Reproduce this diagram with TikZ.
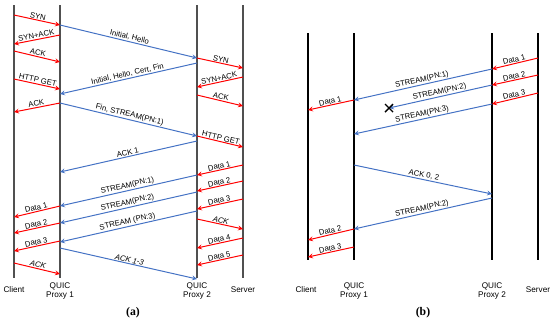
\documentclass[tikz,border=0pt]{standalone}
\usepackage{fontspec}
\setmainfont{Liberation Serif}
\setsansfont{Liberation Sans}
\usepackage{xcolor}
\usepackage{tikz}
\usetikzlibrary{arrows, positioning, calc}

\definecolor{msgred}{RGB}{255,0,0}
\definecolor{msgblue}{RGB}{68,114,196}
\definecolor{linegray}{RGB}{80,80,80}

\begin{document}
\begin{tikzpicture}[x=0.03cm, y=-0.03cm, >=stealth,
    lifeline/.style={line width=1.2pt, linegray},
    redmsg/.style={->, line width=0.85pt, msgred},
    bluemsg/.style={->, line width=0.85pt, msgblue},
    lbl/.style={midway, above, sloped, inner sep=0.6pt, text=black, font=\sffamily\fontsize{6.6}{8}\selectfont},
    ends/.style={align=center, font=\sffamily\fontsize{7}{8.5}\selectfont}]
    \useasboundingbox (0,0) rectangle (550,323);

    % (a) lifelines
    \coordinate (ca) at (14,5);
    \coordinate (pa1) at (60,5);
    \coordinate (pa2) at (197,5);
    \coordinate (sa) at (243,5);
    \draw[lifeline] (ca) -- (ca |- 0,278);
    \draw[lifeline] (pa1) -- (pa1 |- 0,278);
    \draw[lifeline] (pa2) -- (pa2 |- 0,278);
    \draw[lifeline] (sa) -- (sa |- 0,278);
    \node (clienta) [ends] at (14,290) {Client};
    \node (proxya1) [ends] at (60,291) {QUIC\\Proxy 1};
    \node (proxya2) [ends] at (197,291) {QUIC\\Proxy 2};
    \node (servera) [ends] at (243,290) {Server};
    \node (capa) at (133,313) {\textbf{(a)}};

    % (a) Client <-> Proxy 1
    \draw[redmsg] (ca |- 0,15) -- (pa1 |- 0,25) node[lbl] {SYN};
    \draw[redmsg] (pa1 |- 0,35) -- (ca |- 0,44) node[lbl] {SYN+ACK};
    \draw[redmsg] (ca |- 0,51) -- (pa1 |- 0,62) node[lbl] {ACK};
    \draw[redmsg] (ca |- 0,79) -- (pa1 |- 0,89) node[lbl] {HTTP GET};
    \draw[redmsg] (pa1 |- 0,103) -- (ca |- 0,112) node[lbl] {ACK};
    \draw[redmsg] (pa1 |- 0,206) -- (ca |- 0,217) node[lbl] {Data 1};
    \draw[redmsg] (pa1 |- 0,223) -- (ca |- 0,233) node[lbl] {Data 2};
    \draw[redmsg] (pa1 |- 0,241) -- (ca |- 0,251) node[lbl] {Data 3};
    \draw[redmsg] (ca |- 0,263) -- (pa1 |- 0,274) node[lbl] {\itshape ACK};

    % (a) Proxy 1 <-> Proxy 2
    \draw[bluemsg] (pa1 |- 0,25) -- (pa2 |- 0,58) node[lbl] {Initial, Hello};
    \draw[bluemsg] (pa2 |- 0,63) -- (pa1 |- 0,94) node[lbl] {Initial, Hello, Cert, Fin};
    \draw[bluemsg] (pa1 |- 0,103) -- (pa2 |- 0,136) node[lbl] {Fin, STREAM(PN:1)};
    \draw[bluemsg] (pa2 |- 0,141) -- (pa1 |- 0,172) node[lbl] {ACK 1};
    \draw[bluemsg] (pa2 |- 0,175) -- (pa1 |- 0,206) node[lbl] {STREAM(PN:1)};
    \draw[bluemsg] (pa2 |- 0,192) -- (pa1 |- 0,223) node[lbl] {STREAM(PN:2)};
    \draw[bluemsg] (pa2 |- 0,211) -- (pa1 |- 0,242) node[lbl] {STREAM (PN:3)};
    \draw[bluemsg] (pa1 |- 0,248) -- (pa2 |- 0,279) node[lbl] {\itshape ACK 1-3};

    % (a) Proxy 2 <-> Server
    \draw[redmsg] (pa2 |- 0,58) -- (sa |- 0,68) node[lbl] {SYN};
    \draw[redmsg] (sa |- 0,77) -- (pa2 |- 0,87) node[lbl] {SYN+ACK};
    \draw[redmsg] (pa2 |- 0,95) -- (sa |- 0,106) node[lbl] {ACK};
    \draw[redmsg] (pa2 |- 0,136) -- (sa |- 0,147) node[lbl] {HTTP GET};
    \draw[redmsg] (sa |- 0,165) -- (pa2 |- 0,175) node[lbl] {Data 1};
    \draw[redmsg] (sa |- 0,181) -- (pa2 |- 0,191) node[lbl] {Data 2};
    \draw[redmsg] (sa |- 0,199) -- (pa2 |- 0,209) node[lbl] {Data 3};
    \draw[redmsg] (pa2 |- 0,219) -- (sa |- 0,229) node[lbl] {\itshape ACK};
    \draw[redmsg] (sa |- 0,238) -- (pa2 |- 0,248) node[lbl] {Data 4};
    \draw[redmsg] (sa |- 0,255) -- (pa2 |- 0,265) node[lbl] {Data 5};

    % (b) lifelines
    \coordinate (cb) at (308,33);
    \coordinate (pb1) at (354,33);
    \coordinate (pb2) at (492,33);
    \coordinate (sb) at (538,33);
    \draw[lifeline, black] (cb) -- (cb |- 0,260);
    \draw[lifeline, black] (pb1) -- (pb1 |- 0,260);
    \draw[lifeline, black] (pb2) -- (pb2 |- 0,260);
    \draw[lifeline, black] (sb) -- (sb |- 0,260);
    \node (clientb) [ends] at (306,290) {Client};
    \node (proxyb1) [ends] at (354,291) {QUIC\\Proxy 1};
    \node (proxyb2) [ends] at (492,291) {QUIC\\Proxy 2};
    \node (serverb) [ends] at (538,290) {Server};
    \node (capb) at (423,313) {\textbf{(b)}};

    % (b) Server -> Proxy 2
    \draw[redmsg] (sb |- 0,58) -- (pb2 |- 0,69) node[lbl] {Data 1};
    \draw[redmsg] (sb |- 0,75) -- (pb2 |- 0,85) node[lbl] {Data 2};
    \draw[redmsg] (sb |- 0,93) -- (pb2 |- 0,104) node[lbl] {Data 3};

    % (b) Proxy 2 <-> Proxy 1
    \coordinate (lost) at (389,108);
    \draw[bluemsg] (pb2 |- 0,69) -- (pb1 |- 0,100) node[lbl] {STREAM(PN:1)};
    \draw[bluemsg] (pb2 |- 0,85) -- (lost) node[lbl] {STREAM(PN:2)};
    \draw[line width=1.2pt] ($(lost)+(-4,-4)$) -- ($(lost)+(4,4)$)
        ($(lost)+(-4,4)$) -- ($(lost)+(4,-4)$);
    \draw[bluemsg] (pb2 |- 0,104) -- (pb1 |- 0,134) node[lbl] {STREAM(PN:3)};
    \draw[bluemsg] (pb1 |- 0,165) -- (pb2 |- 0,194) node[lbl] {ACK 0, 2};
    \draw[bluemsg] (pb2 |- 0,198) -- (pb1 |- 0,229) node[lbl] {STREAM(PN:2)};

    % (b) Proxy 1 -> Client
    \draw[redmsg] (pb1 |- 0,100) -- (cb |- 0,110) node[lbl] {Data 1};
    \draw[redmsg] (pb1 |- 0,229) -- (cb |- 0,240) node[lbl] {Data 2};
    \draw[redmsg] (pb1 |- 0,247) -- (cb |- 0,257) node[lbl] {Data 3};
\end{tikzpicture}
\end{document}
